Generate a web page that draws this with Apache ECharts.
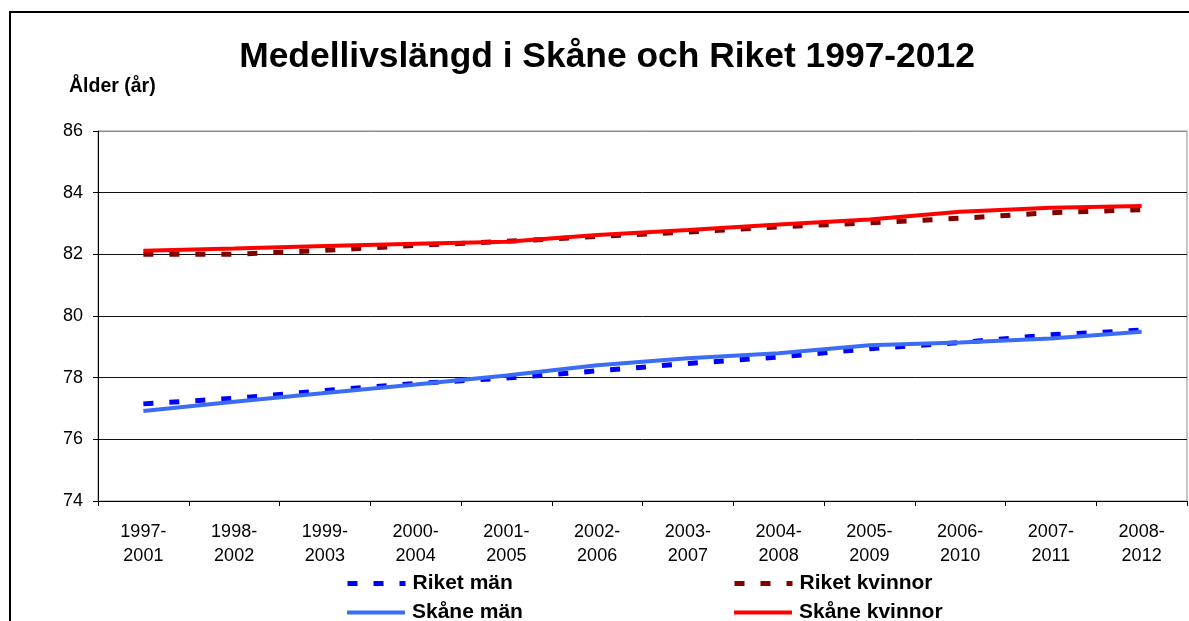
<!DOCTYPE html>
<html>
<head>
<meta charset="utf-8">
<script src="https://cdn.jsdelivr.net/npm/echarts@6/dist/echarts.min.js"></script>
<style>
  html, body { margin: 0; padding: 0; background: #fff; }
  #chart { width: 1189px; height: 621px; }
</style>
</head>
<body>
<div id="chart"></div>
<script>
// Periods (5-year windows)
const categories = [
    '1997-\n2001', '1998-\n2002', '1999-\n2003', '2000-\n2004', '2001-\n2005', '2002-\n2006',
    '2003-\n2007', '2004-\n2008', '2005-\n2009', '2006-\n2010', '2007-\n2011', '2008-\n2012'
];

// Life expectancy, years
const riketMan = [77.15, 77.33, 77.58, 77.81, 77.99, 78.22, 78.46, 78.67, 78.94, 79.14, 79.39, 79.54];
const riketKvinnor = [82.0, 82.0, 82.13, 82.29, 82.42, 82.58, 82.72, 82.89, 83.02, 83.17, 83.35, 83.45];
const skaneMan = [76.92, 77.22, 77.5, 77.78, 78.07, 78.4, 78.63, 78.79, 79.05, 79.14, 79.27, 79.49];
const skaneKvinnor = [82.12, 82.19, 82.27, 82.34, 82.41, 82.63, 82.79, 82.97, 83.13, 83.38, 83.51, 83.57];

const yTicks = { min: 74, max: 86, step: 2 };

const font = "'Liberation Sans', Arial, sans-serif";
const chart = echarts.init(document.getElementById('chart'));

const dash = [10, 16];

function dotted(name, color, data) {
    return {
        name: name,
        type: 'line',
        data: data,
        symbol: 'none',
        z: 2,
        lineStyle: { color: color, width: 5, type: dash, cap: 'butt' },
        itemStyle: { color: color }
    };
}

function solid(name, color, data) {
    return {
        name: name,
        type: 'line',
        data: data,
        symbol: 'none',
        z: 3,
        lineStyle: { color: color, width: 4 },
        itemStyle: { color: color }
    };
}

// one legend per item so the 2x2 layout matches
function legendAt(name, left, top, width, type) {
    return {
        data: [name],
        left: left, top: top,
        padding: 0,
        itemWidth: 58, itemHeight: 14,
        itemStyle: { opacity: 0 },
        lineStyle: { width: width, type: type, cap: 'butt' },
        textStyle: { fontFamily: font, fontSize: 21, fontWeight: 'bold', color: '#000', padding: [0, 0, 0, 2] }
    };
}

const option = {
    animation: false,
    title: [
        {
            text: 'Medellivslängd i Skåne och Riket 1997-2012',
            left: 602, top: 35, textAlign: 'center',
            textStyle: { fontFamily: font, fontSize: 35.4, fontWeight: 'bold', color: '#000' }
        },
        {
            text: 'Ålder (år)',
            left: 64, top: 72,
            textStyle: { fontFamily: font, fontSize: 19.5, fontWeight: 'bold', color: '#000' }
        }
    ],
    graphic: [
        {
            type: 'rect',
            shape: { x: 10, y: 12, width: 1250, height: 700 },
            style: { fill: 'none', stroke: '#000', lineWidth: 2 },
            silent: true
        }
    ],
    legend: [
        legendAt('Riket män', 345, 573, 5, dash),
        legendAt('Skåne män', 345, 602, 4, 'solid'),
        legendAt('Riket kvinnor', 732, 573, 5, dash),
        legendAt('Skåne kvinnor', 732, 602, 4, 'solid')
    ],
    grid: {
        left: 98, right: 2, top: 131, bottom: 120,
        show: true, borderColor: '#8c8c8c', borderWidth: 1
    },
    xAxis: {
        type: 'category',
        data: categories,
        boundaryGap: true,
        axisLine: { lineStyle: { color: '#000', width: 1 } },
        axisTick: { show: true, length: 5, lineStyle: { color: '#000' } },
        axisLabel: {
            interval: 0, margin: 19, lineHeight: 24,
            fontFamily: font, fontSize: 18, color: '#000'
        }
    },
    yAxis: {
        type: 'value',
        min: yTicks.min, max: yTicks.max, interval: yTicks.step,
        axisLine: { show: true, lineStyle: { color: '#000', width: 1 } },
        axisTick: { show: true, length: 5, lineStyle: { color: '#000' } },
        axisLabel: { fontFamily: font, fontSize: 18, color: '#000', margin: 15 },
        splitLine: {
            lineStyle: {
                color: ['#111', '#111', '#111', '#111', '#111', '#111', '#8c8c8c'],
                width: 1
            }
        }
    },
    series: [
        dotted('Riket män', '#0000ff', riketMan),
        dotted('Riket kvinnor', '#800000', riketKvinnor),
        solid('Skåne män', '#3b6cf6', skaneMan),
        solid('Skåne kvinnor', '#ff0000', skaneKvinnor)
    ]
};

chart.setOption(option);
</script>
</body>
</html>
